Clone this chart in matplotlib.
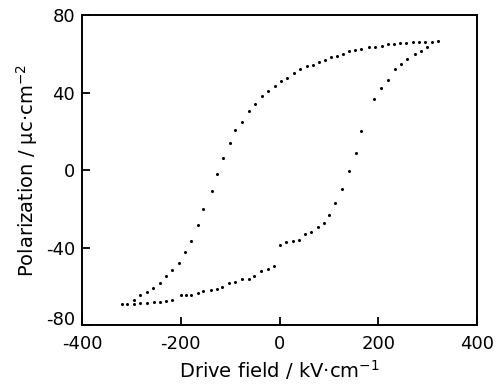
import matplotlib

matplotlib.use("Agg")
import matplotlib.pyplot as plt
import matplotlib.transforms as mtransforms

# Upper branch of the loop: from the positive tip sweeping down to the negative tip
upper_field = [320, 308, 295, 283, 271, 257, 244, 232, 220, 208, 193, 181, 165, 153,
               140, 129, 116, 104, 92, 79, 67, 55, 42, 29, 16, 3, -9, -23, -36, -49,
               -62, -75, -90, -101, -114, -127, -137, -154, -166, -179, -191, -203,
               -218, -229, -242, -256, -269, -282, -294, -319]
upper_pol = [66.5, 66.3, 66.2, 66.2, 66.0, 65.8, 65.6, 65.1, 65.0, 64.3, 63.6, 63.4,
             62.6, 61.9, 61.4, 59.8, 59.1, 58.3, 56.9, 55.7, 54.5, 53.7, 52.3, 50.3,
             47.5, 45.8, 43.4, 41.0, 38.1, 34.0, 30.3, 25.1, 20.8, 14.2, 6.5, -1.9,
             -10.9, -20.3, -28.5, -36.4, -42.0, -47.7, -51.3, -54.4, -58.1, -60.7,
             -62.7, -64.3, -66.8, -69.2]

# Lower branch: from the negative tip back up to the positive tip
lower_field = [-308, -294, -282, -269, -255, -242, -230, -218, -200, -190, -179, -166,
               -154, -138, -127, -116, -102, -90, -75, -62, -51, -38, -24, -11, 1,
               14, 28, 40, 52, 64, 78, 91, 101, 113, 127, 140, 154, 166, 192, 205,
               220, 233, 247, 259, 274, 286, 298]
lower_pol = [-68.9, -69.2, -68.7, -68.7, -68.0, -68.0, -67.5, -66.8, -64.4, -64.4,
             -64.3, -63.6, -62.4, -61.7, -61.2, -60.5, -58.5, -57.6, -56.4, -56.4,
             -54.4, -52.1, -50.9, -49.6, -38.8, -37.1, -36.4, -36.2, -33.2, -32.0,
             -29.2, -27.4, -22.9, -17.1, -9.6, -0.5, 9.1, 20.0, 36.6, 42.4, 46.5,
             52.0, 54.9, 57.6, 60.0, 61.7, 63.4]

x_ticks = [-400, -200, 0, 200, 400]
y_ticks = [-80, -40, 0, 40, 80]

plt.rcParams["font.family"] = "DejaVu Sans"

fig = plt.figure(figsize=(5.0, 3.88), dpi=100)
ax = fig.add_axes([0.164, 0.162, 0.79, 0.799])

ax.plot(upper_field, upper_pol, "o", color="black", markersize=2.2, markeredgewidth=0)
ax.plot(lower_field, lower_pol, "o", color="black", markersize=2.2, markeredgewidth=0)

ax.set_xlim(-400, 400)
ax.set_ylim(-80, 79)
ax.set_xticks(x_ticks)
ax.set_yticks(y_ticks)
ax.set_xticklabels([str(t) for t in x_ticks])
ax.set_yticklabels([str(t) for t in y_ticks])
ax.tick_params(direction="in", length=6, width=1.3, labelsize=13)
ax.tick_params(axis="x", pad=7)
ax.tick_params(axis="y", pad=5)

# the bottom y label sits a little above the axis line, as in the scan
lowest = ax.get_yticklabels()[0]
lowest.set_transform(lowest.get_transform()
                     + mtransforms.ScaledTranslation(0, 5 / 72, fig.dpi_scale_trans))

for side in ax.spines.values():
    side.set_linewidth(1.4)

ax.set_xlabel("Drive field / kV\u00b7cm$^{-1}$", fontsize=14, labelpad=4)
ax.set_ylabel("Polarization / \u03bcc\u00b7cm$^{-2}$", fontsize=14, labelpad=4)

fig.savefig("out.png", dpi=100)
plt.close(fig)
